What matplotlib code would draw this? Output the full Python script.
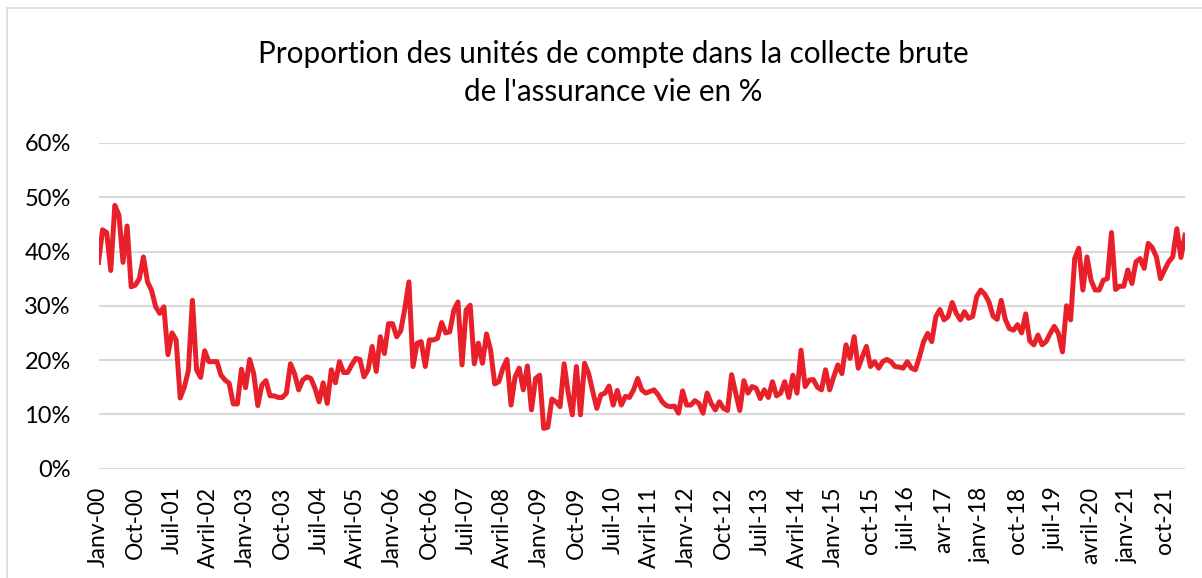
import matplotlib
matplotlib.use("Agg")
import matplotlib.pyplot as plt
from matplotlib.patches import Rectangle
from matplotlib.ticker import FuncFormatter

# part des UC dans la collecte brute, mensuel, janv-2000 -> mars-2022 (en %)
share_uc = [
    38, 44, 43.5, 36.5, 48.5, 46.7, 38, 44.7, 33.5, 33.8, 35, 39, 34.4, 32.8, 29.8,
    28.6, 29.8, 21, 25, 23.7, 13, 15, 18, 31, 18.2, 16.8, 21.7, 19.7, 19.7, 19.7,
    17.2, 16.3, 15.7, 11.9, 11.9, 18.3, 14.9, 20.1, 17.5, 11.6, 15.4, 16.2, 13.4, 13.4, 13.1,
    13.1, 13.9, 19.3, 17.5, 14.5, 16.3, 16.9, 16.6, 14.8, 12.3, 15.8, 12, 18.2, 15.8, 19.7,
    17.7, 17.7, 19.1, 20.3, 20.1, 16.9, 18.2, 22.5, 17.9, 24.3, 21.2, 26.7, 26.7, 24.3, 25.4,
    29.5, 34.4, 18.8, 23.1, 23.4, 18.8, 23.7, 23.7, 24, 26.9, 25, 25.2, 29.2, 30.7,
    19.1, 29.2, 30.1, 19.3, 23.1, 19.4, 24.8, 21.8, 15.6, 16, 18.5, 20.1, 11.7, 16.9, 18.5,
    14.5, 18.9, 10.8, 16.6, 17.2, 7.4, 7.6, 12.8, 12.3, 11.4, 19.3, 13.9, 9.9, 18.8, 9.9,
    19.4, 17.5, 14.2, 11.1, 13.6, 13.9, 15.2, 11.7, 14.4, 11.7, 13.3, 13.1, 14.5, 16.6,
    14.5, 13.9, 14.2, 14.5, 13.6, 12.3, 11.6, 11.4, 11.5, 10.2, 14.3, 11.7, 11.7, 12.5, 12,
    10.2, 13.9, 12, 10.8, 12.3, 11.1, 10.7, 17.3, 13.9, 10.7, 16.2, 13.9, 15.1, 14.8, 12.9,
    14.5, 13.1, 16, 13.4, 13.9, 16, 13.1, 17.2, 13.9, 21.8, 15.1, 16.3, 16.4, 15,
    14.5, 18.2, 14.5, 16.9, 19.1, 17.5, 22.8, 20.3, 24.3, 18.5, 20.6, 22.5, 18.8, 19.7, 18.5,
    19.7, 20.1, 19.7, 18.8, 18.7, 18.5, 19.7, 18.5, 18.2, 20.6, 23.4, 24.9, 23.4, 28, 29.3,
    27.4, 28, 30.6, 28.6, 27.4, 28.9, 27.7, 28, 31.7, 32.9, 32.1, 30.7, 28.1, 27.5,
    31, 27.5, 25.8, 25.5, 26.5, 25, 28.5, 23.5, 22.8, 24.6, 22.8, 23.4, 24.9, 26.2, 24.9,
    21.5, 30, 27.4, 38.7, 40.6, 32.9, 39, 34.7, 32.9, 32.9, 34.7, 35, 43.5, 33, 33.6,
    33.6, 36.6, 34.1, 38.1, 38.7, 36.9, 41.5, 40.7, 39, 35, 36.6, 38.1, 39, 44.2, 38.9, 43,
]

# une etiquette tous les 9 mois
tick_labels = [
    "Janv-00", "Oct-00", "Juil-01", "Avril-02", "Janv-03", "Oct-03", "Juil-04",
    "Avril-05", "Janv-06", "Oct-06", "Juil-07", "Avril-08", "Janv-09", "Oct-09",
    "Juil-10", "Avril-11", "Janv-12", "Oct-12", "Juil-13", "Avril-14", "Janv-15",
    "oct-15", "juil-16", "avr-17", "janv-18", "oct-18", "juil-19", "avril-20",
    "janv-21", "oct-21",
]
tick_step = 9

plt.rcParams["font.family"] = ["Lato", "DejaVu Sans"]

fig = plt.figure(figsize=(12.02, 5.78), dpi=100)
ax = fig.add_axes([98.5 / 1202, 0.1894, (1185 - 98.5) / 1202, 0.5632])

months = list(range(len(share_uc)))
ax.plot(months, share_uc, color="#E8202A", lw=3.6, solid_joinstyle="round")

ax.set_xlim(0, len(share_uc) - 1)
ax.set_ylim(0, 60)
ax.set_yticks(range(0, 61, 10))
ax.yaxis.set_major_formatter(FuncFormatter(lambda v, p: f"{v:.0f}%"))
ax.set_xticks([i * tick_step for i in range(len(tick_labels))])
ax.set_xticklabels(tick_labels, rotation=90, va="top", ha="center")

ax.grid(axis="y", color="#d9d9d9", lw=1.5)
ax.set_axisbelow(True)
for s in ax.spines.values():
    s.set_visible(False)
ax.tick_params(axis="both", length=0, labelsize=16.5, colors="#000000")
ax.tick_params(axis="y", labelsize=17, pad=20)
ax.tick_params(axis="x", pad=13)

fig.text(613 / 1202, 1 - 73 / 578,
         "Proportion des unités de compte dans la collecte brute\nde l'assurance vie en %",
         ha="center", va="center", fontsize=21.3, linespacing=1.45, color="#000000")

# cadre du graphique
fig.patches.append(Rectangle((7 / 1202, -0.02), 1.1, 1 - 8 / 578 + 0.02,
                             transform=fig.transFigure, fill=False,
                             edgecolor="#d9d9d9", lw=1.2))

fig.savefig("out.png", dpi=100)
